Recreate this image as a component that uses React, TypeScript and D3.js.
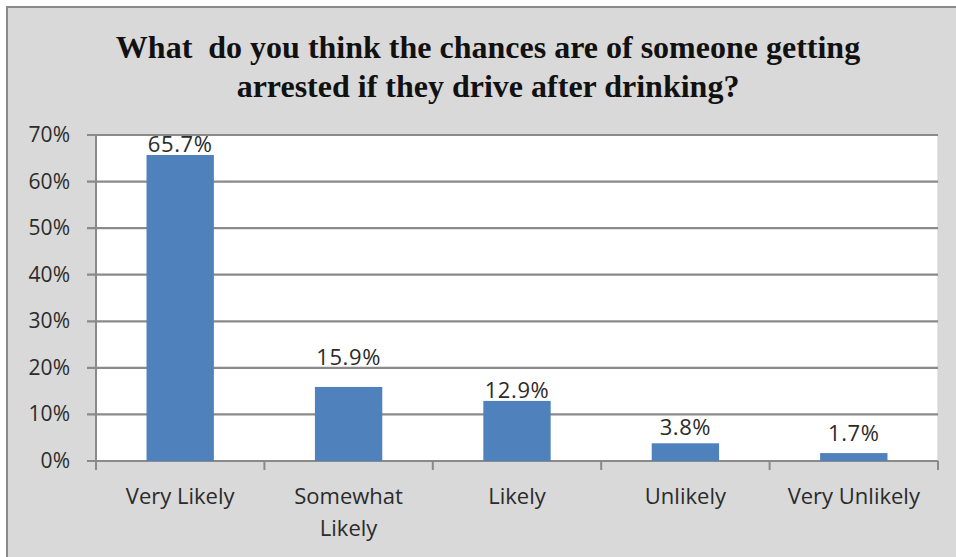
import React from "react";
import * as d3 from "d3";

const categories: string[][] = [["Very Likely"], ["Somewhat", "Likely"], ["Likely"], ["Unlikely"], ["Very Unlikely"]];
const values: number[] = [65.7, 15.9, 12.9, 3.8, 1.7];
const valueLabels: string[] = ["65.7%", "15.9%", "12.9%", "3.8%", "1.7%"];
const yTicks: number[] = [0, 10, 20, 30, 40, 50, 60, 70];
const titleLines: string[] = [
  "What  do you think the chances are of someone getting",
  "arrested if they drive after drinking?",
];

// label lift above bar top (style, px)
const labelLift = [3, 22, 3, 8, 12];

const W = 956;
const H = 557;
const plot = { left: 96, right: 938, top: 135, bottom: 461 };

export default function App() {
  const x = d3
    .scaleBand<number>()
    .domain(values.map((_, i) => i))
    .range([plot.left, plot.right])
    .paddingInner(0.6)
    .paddingOuter(0.3);
  const step = (plot.right - plot.left) / values.length;
  const y = d3.scaleLinear().domain([0, 70]).range([plot.bottom, plot.top]);
  const font = "'Open Sans', sans-serif";
  const textColor = "#2b2b2b";
  return (
    <svg width={W} height={H} style={{ position: "absolute", left: 0, top: 0 }}>
      <rect x={0} y={0} width={W} height={H} fill="#ffffff" />
      <rect x={7} y={7} width={W + 10} height={H + 10} fill="#d9d9d9" stroke="#8a8a8a" strokeWidth={2} />
      {titleLines.map((t, i) => (
        <text
          key={i}
          x={488}
          y={58 + i * 39}
          textAnchor="middle"
          fontFamily="'Liberation Serif', 'Times New Roman', serif"
          fontWeight="bold"
          fontSize={32}
          fill="#111"
          style={{ whiteSpace: "pre" }}
        >
          {t}
        </text>
      ))}
      <rect x={plot.left} y={plot.top} width={plot.right - plot.left} height={plot.bottom - plot.top} fill="#ffffff" stroke="#d0d0d0" strokeWidth={1} />
      {yTicks.map((t) => (
        <g key={t}>
          <line x1={plot.left - 9} x2={plot.right} y1={y(t)} y2={y(t)} stroke="#8a8a8a" strokeWidth={2.2} />
          <text x={70} y={y(t) + 7} textAnchor="end" fontFamily={font} fontSize={21} fill={textColor}>
            {t}%
          </text>
        </g>
      ))}
      <line x1={plot.left} x2={plot.left} y1={plot.top} y2={plot.bottom + 9} stroke="#8a8a8a" strokeWidth={2} />
      {d3.range(values.length + 1).map((i) => (
        <line key={i} x1={plot.left + i * step} x2={plot.left + i * step} y1={plot.bottom} y2={plot.bottom + 9} stroke="#8a8a8a" strokeWidth={2} />
      ))}
      {values.map((v, i) => (
        <rect key={i} x={x(i)} y={y(v)} width={x.bandwidth()} height={y(0) - y(v)} fill="#4f81bd" />
      ))}
      {values.map((v, i) => (
        <text
          key={i}
          x={(x(i) as number) + x.bandwidth() / 2}
          y={y(v) - labelLift[i]}
          textAnchor="middle"
          fontFamily={font}
          fontSize={22}
          letterSpacing={0.6}
          fill={textColor}
        >
          {valueLabels[i]}
        </text>
      ))}
      {categories.map((lines, i) => (
        <text key={i} textAnchor="middle" fontFamily={font} fontSize={22} fill={textColor}>
          {lines.map((l, j) => (
            <tspan key={j} x={(x(i) as number) + x.bandwidth() / 2} y={504 + j * 32}>
              {l}
            </tspan>
          ))}
        </text>
      ))}
    </svg>
  );
}
